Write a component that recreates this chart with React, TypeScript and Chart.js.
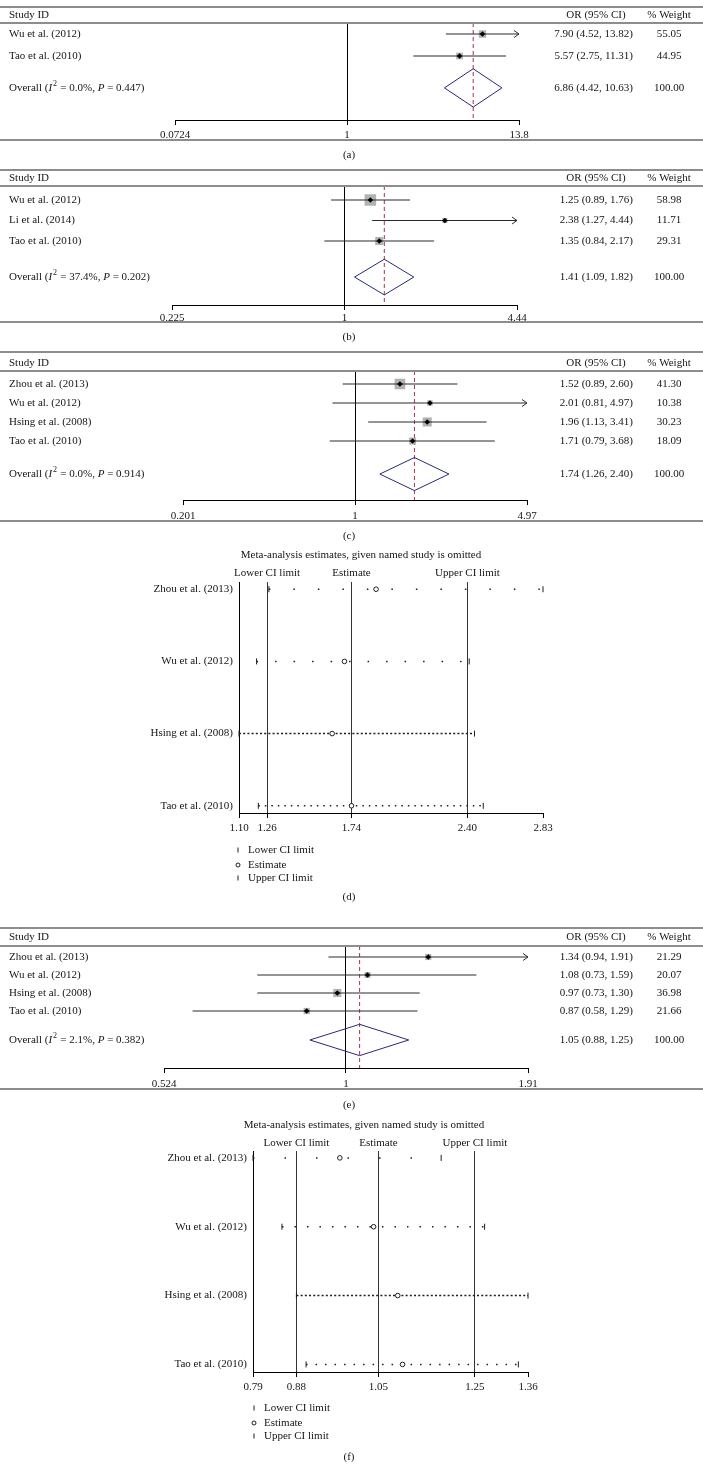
import React, { useEffect, useRef } from "react";
import { Chart, registerables } from "chart.js";

Chart.register(...registerables);

const PAGE_W = 703;
const PAGE_H = 1479;
const SERIF = '"Liberation Serif", "Times New Roman", Times, serif';

// ===== Panel (a) =====
const studiesA = ["Wu et al. (2012)", "Tao et al. (2010)"];
const orA = [7.9, 5.57];
const lowerA = [4.52, 2.75];
const upperA = [13.82, 11.31];
const weightsA = [55.05, 44.95];
const overallA = [6.86, 4.42, 10.63];
const hetA = ["0.0%", "0.447"];
const ticksA = [0.0724, 1, 13.8];
const tickLabelsA = ["0.0724", "1", "13.8"];

// ===== Panel (b) =====
const studiesB = ["Wu et al. (2012)", "Li et al. (2014)", "Tao et al. (2010)"];
const orB = [1.25, 2.38, 1.35];
const lowerB = [0.89, 1.27, 0.84];
const upperB = [1.76, 4.44, 2.17];
const weightsB = [58.98, 11.71, 29.31];
const overallB = [1.41, 1.09, 1.82];
const hetB = ["37.4%", "0.202"];
const ticksB = [0.225, 1, 4.44];
const tickLabelsB = ["0.225", "1", "4.44"];

// ===== Panel (c) =====
const studiesC = ["Zhou et al. (2013)", "Wu et al. (2012)", "Hsing et al. (2008)", "Tao et al. (2010)"];
const orC = [1.52, 2.01, 1.96, 1.71];
const lowerC = [0.89, 0.81, 1.13, 0.79];
const upperC = [2.6, 4.97, 3.41, 3.68];
const weightsC = [41.3, 10.38, 30.23, 18.09];
const overallC = [1.74, 1.26, 2.4];
const hetC = ["0.0%", "0.914"];
const ticksC = [0.201, 1, 4.97];
const tickLabelsC = ["0.201", "1", "4.97"];

// ===== Panel (e) =====
const studiesE = ["Zhou et al. (2013)", "Wu et al. (2012)", "Hsing et al. (2008)", "Tao et al. (2010)"];
const orE = [1.34, 1.08, 0.97, 0.87];
const lowerE = [0.94, 0.73, 0.73, 0.58];
const upperE = [1.91, 1.59, 1.3, 1.29];
const weightsE = [21.29, 20.07, 36.98, 21.66];
const overallE = [1.05, 0.88, 1.25];
const hetE = ["2.1%", "0.382"];
const ticksE = [0.524, 1, 1.91];
const tickLabelsE = ["0.524", "1", "1.91"];

// ===== Panel (d): influence analysis =====
const omittedStudies = ["Zhou et al. (2013)", "Wu et al. (2012)", "Hsing et al. (2008)", "Tao et al. (2010)"];
const estimateD = [1.88, 1.7, 1.63, 1.74];
const lowerD = [1.27, 1.2, 1.1, 1.21];
const upperD = [2.83, 2.41, 2.44, 2.49];
const overallD = [1.74, 1.26, 2.4];
const ticksD = [1.1, 1.26, 1.74, 2.4, 2.83];

// ===== Panel (f): influence analysis =====
const estimateF = [0.97, 1.04, 1.09, 1.1];
const lowerF = [0.79, 0.85, 0.88, 0.9];
const upperF = [1.18, 1.27, 1.36, 1.34];
const overallF = [1.05, 0.88, 1.25];
const ticksF = [0.79, 0.88, 1.05, 1.25, 1.36];

const legendLabels = ["Lower CI limit", "Estimate", "Upper CI limit"];
const sensTitle = "Meta-analysis estimates, given named study is omitted";

// ===== layout (page pixel positions) =====
const layoutA = { top: 0, height: 165, topRule: 7, header: 15, underline: 23, firstRow: 34, rowGap: 22, overallRow: 3.45, axis: 120, bottomRule: 140, caption: 155, xLeft: 175, xRight: 519, boxScale: 1.0, tickPad: 4 };
const layoutB = { top: 165, height: 180, topRule: 170, header: 178, underline: 186, firstRow: 200, rowGap: 20.5, overallRow: 4.76, axis: 305, bottomRule: 322, caption: 337, xLeft: 172, xRight: 517, boxScale: 1.5, tickPad: 1.5 };
const layoutC = { top: 345, height: 200, topRule: 352, header: 363, underline: 371, firstRow: 384, rowGap: 19, overallRow: 5.74, axis: 500, bottomRule: 521, caption: 536, xLeft: 183, xRight: 527, boxScale: 1.65, tickPad: 5 };
const layoutE = { top: 915, height: 197, topRule: 928, header: 937, underline: 946, firstRow: 957, rowGap: 18, overallRow: 5.61, axis: 1068, bottomRule: 1089, caption: 1105, xLeft: 164, xRight: 528, boxScale: 1.33, tickPad: 4.5 };

const layoutD = { top: 545, height: 370, title: 555, titleX: 361, header: 573, areaTop: 582, axis: 813, left: 239, right: 543, yMin: 0.9, yMax: 4.1, tickPad: 4, legendYs: [850, 865, 878], legendX: 238, caption: 897, dashes: [[1.5, 23], [1.5, 17], [2, 2.2], [1.5, 5]] };
const layoutF = { top: 1112, height: 367, title: 1125, titleX: 364, header: 1143, areaTop: 1151, axis: 1372, left: 253, right: 528, yMin: 0.9, yMax: 4.11, tickPad: 3.5, legendYs: [1408, 1423, 1436], legendX: 254, caption: 1457, dashes: [[1.5, 30], [1.5, 11], [2, 2.2], [1.5, 8]] };

const X_STUDY = 9;
const X_OR_HEAD = 596;
const X_OR_RIGHT = 633;
const X_WEIGHT = 669;
const X_CAPTION = 349;
const TEXT = "#151515";
const RULE = "#8d8d8d";
const NAVY = "#29287a";
const RED = "#a8324a";

function fmt(est: number, lo: number, hi: number) {
  return `${est.toFixed(2)} (${lo.toFixed(2)}, ${hi.toFixed(2)})`;
}

function drawOverall(ctx: CanvasRenderingContext2D, x: number, y: number, i2: string, p: string) {
  const parts = [
    { t: "Overall (", f: "n" },
    { t: "I", f: "i" },
    { t: "2", f: "s" },
    { t: " = " + i2 + ", ", f: "n" },
    { t: "P", f: "i" },
    { t: " = " + p + ")", f: "n" },
  ];
  let cx = x;
  ctx.textAlign = "left";
  for (const part of parts) {
    ctx.font = part.f === "i" ? `italic 11px ${SERIF}` : part.f === "s" ? `8px ${SERIF}` : `11px ${SERIF}`;
    ctx.fillText(part.t, cx + (part.f === "s" ? 1 : 0), part.f === "s" ? y - 4 : y);
    cx += ctx.measureText(part.t).width + (part.f === "s" ? 1.5 : 0);
  }
}

type ForestProps = {
  studies: string[]; or: number[]; lower: number[]; upper: number[]; weights: number[];
  overall: number[]; het: string[]; ticks: number[]; tickLabels: string[]; caption: string; L: any;
};

function ForestPanel(props: ForestProps) {
  const ref = useRef<HTMLCanvasElement>(null);
  useEffect(() => {
    const { studies, or, lower, upper, weights, overall, het, ticks, tickLabels, caption, L } = props;
    const xMin = ticks[0];
    const xMax = ticks[ticks.length - 1];
    const yMin = 1 - (L.firstRow - L.underline) / L.rowGap;
    const yMax = 1 + (L.axis - L.firstRow) / L.rowGap;
    const yo = L.overallRow;
    const dh = 0.87;

    const datasets: any[] = [];
    datasets.push({
      data: or.map((v, i) => ({ x: v, y: i + 1 })),
      pointStyle: "rectRot", pointRadius: 2.8, pointBackgroundColor: "#000", pointBorderColor: "#000", pointBorderWidth: 0,
      order: 0,
    });
    studies.forEach((_, i) => {
      datasets.push({
        data: [{ x: lower[i], y: i + 1 }, { x: Math.min(upper[i], xMax), y: i + 1 }],
        showLine: true, borderColor: "#2a2a2a", borderWidth: 1, pointRadius: 0, order: 1,
      });
    });
    datasets.push({
      data: or.map((v, i) => ({ x: v, y: i + 1 })),
      pointStyle: "rect", pointRadius: weights.map((w) => (L.boxScale * Math.sqrt(w)) / Math.SQRT2),
      pointBackgroundColor: "#b2b2b2", pointBorderWidth: 0, order: 2,
    });
    datasets.push({
      data: [
        { x: overall[1], y: yo }, { x: overall[0], y: yo - dh }, { x: overall[2], y: yo },
        { x: overall[0], y: yo + dh }, { x: overall[1], y: yo },
      ],
      showLine: true, borderColor: NAVY, borderWidth: 1, pointRadius: 0, order: 3,
    });
    datasets.push({
      data: [{ x: overall[0], y: yMin }, { x: overall[0], y: yMax }],
      showLine: true, borderColor: RED, borderWidth: 1, borderDash: [4, 3], pointRadius: 0, order: 4,
    });

    const decor = {
      id: "forestDecor",
      afterDatasetsDraw(chart: any) {
        const { ctx, scales } = chart;
        ctx.save();
        ctx.strokeStyle = "#2a2a2a";
        ctx.lineWidth = 1;
        upper.forEach((u, i) => {
          if (u >= xMax) {
            const px = scales.x.getPixelForValue(xMax);
            const py = scales.y.getPixelForValue(i + 1);
            ctx.beginPath();
            ctx.moveTo(px - 5, py - 3.5);
            ctx.lineTo(px, py);
            ctx.lineTo(px - 5, py + 3.5);
            ctx.stroke();
          }
        });
        ctx.restore();
      },
      afterDraw(chart: any) {
        const { ctx, scales } = chart;
        const T = L.top;
        ctx.save();
        ctx.strokeStyle = RULE;
        ctx.lineWidth = 2;
        [L.topRule, L.underline, L.bottomRule].forEach((yy: number) => {
          ctx.beginPath();
          ctx.moveTo(0, yy - T);
          ctx.lineTo(PAGE_W, yy - T);
          ctx.stroke();
        });
        ctx.fillStyle = TEXT;
        ctx.textBaseline = "middle";
        ctx.font = `11px ${SERIF}`;
        ctx.textAlign = "left";
        ctx.fillText("Study ID", X_STUDY, L.header - T);
        ctx.textAlign = "center";
        ctx.fillText("OR (95% CI)", X_OR_HEAD, L.header - T);
        ctx.fillText("% Weight", X_WEIGHT, L.header - T);
        studies.forEach((s, i) => {
          const y = scales.y.getPixelForValue(i + 1);
          ctx.textAlign = "left";
          ctx.fillText(s, X_STUDY, y);
          ctx.textAlign = "right";
          ctx.fillText(fmt(or[i], lower[i], upper[i]), X_OR_RIGHT, y);
          ctx.textAlign = "center";
          ctx.fillText(weights[i].toFixed(2), X_WEIGHT, y);
        });
        const yO = scales.y.getPixelForValue(yo);
        drawOverall(ctx, X_STUDY, yO, het[0], het[1]);
        ctx.font = `11px ${SERIF}`;
        ctx.textAlign = "right";
        ctx.fillText(fmt(overall[0], overall[1], overall[2]), X_OR_RIGHT, yO);
        ctx.textAlign = "center";
        ctx.fillText((100).toFixed(2), X_WEIGHT, yO);
        ctx.fillText(caption, X_CAPTION, L.caption - T);
        ctx.restore();
      },
    };

    const chart = new Chart(ref.current as HTMLCanvasElement, {
      type: "scatter",
      data: { datasets },
      options: {
        animation: false,
        responsive: false,
        maintainAspectRatio: false,
        devicePixelRatio: 1,
        events: [],
        layout: { padding: { left: L.xLeft, right: PAGE_W - L.xRight, top: L.underline - L.top, bottom: L.top + L.height - L.axis - 20 } },
        plugins: { legend: { display: false }, tooltip: { enabled: false } },
        scales: {
          x: {
            type: "logarithmic", min: xMin, max: xMax, bounds: "data",
            afterBuildTicks: (s: any) => { s.ticks = ticks.map((v) => ({ value: v })); },
            afterFit: (s: any) => { s.height = 20; },
            ticks: {
              callback: (_v: any, i: number) => tickLabels[i],
              color: TEXT, font: { family: SERIF, size: 11 }, padding: L.tickPad, maxRotation: 0, autoSkip: false,
            },
            grid: {
              color: (c: any) => (c.tick && c.tick.value === 1 ? "#000" : "rgba(0,0,0,0)"),
              tickColor: "#000", tickLength: 5, lineWidth: 1,
            },
            border: { display: true, color: "#000", width: 1 },
          },
          y: { type: "linear", reverse: true, min: yMin, max: yMax, display: false },
        },
      } as any,
      plugins: [decor],
    });
    return () => chart.destroy();
  }, []);
  const L = props.L;
  return (
    <canvas ref={ref} width={PAGE_W} height={L.height}
      style={{ position: "absolute", left: 0, top: L.top, width: PAGE_W, height: L.height, display: "block" }} />
  );
}

type SensProps = { studies: string[]; est: number[]; lower: number[]; upper: number[]; overall: number[]; ticks: number[]; caption: string; L: any };

function SensPanel(props: SensProps) {
  const ref = useRef<HTMLCanvasElement>(null);
  useEffect(() => {
    const { studies, est, lower, upper, overall, ticks, caption, L } = props;
    const dark = "#1e1e1e";
    const datasets: any[] = [];
    datasets.push({
      label: legendLabels[1],
      data: est.map((v, i) => ({ x: v, y: i + 1 })),
      pointStyle: "circle", pointRadius: 2.3, pointBackgroundColor: "#fff", pointBorderColor: dark, pointBorderWidth: 1,
      order: 0, clip: false,
    });
    datasets.push({
      label: legendLabels[0],
      data: lower.map((v, i) => ({ x: v, y: i + 1 })),
      pointStyle: "line", pointRotation: 90, pointRadius: 3, pointBorderColor: dark, pointBorderWidth: 1,
      order: 1, clip: false,
    });
    datasets.push({
      label: legendLabels[2],
      data: upper.map((v, i) => ({ x: v, y: i + 1 })),
      pointStyle: "line", pointRotation: 90, pointRadius: 3, pointBorderColor: dark, pointBorderWidth: 1,
      order: 1, clip: false,
    });
    studies.forEach((_, i) => {
      datasets.push({
        data: [{ x: lower[i], y: i + 1 }, { x: upper[i], y: i + 1 }],
        showLine: true, borderColor: dark, borderWidth: 1.5, borderDash: L.dashes[i], pointRadius: 0, order: 2, clip: false,
      });
    });

    const decor = {
      id: "sensDecor",
      afterDraw(chart: any) {
        const { ctx, scales } = chart;
        const T = L.top;
        ctx.save();
        ctx.fillStyle = TEXT;
        ctx.strokeStyle = dark;
        ctx.textBaseline = "middle";
        ctx.font = `11px ${SERIF}`;
        ctx.textAlign = "center";
        ctx.fillText(sensTitle, L.titleX, L.title - T);
        const heads = [
          { t: legendLabels[0], v: overall[1] },
          { t: legendLabels[1], v: overall[0] },
          { t: legendLabels[2], v: overall[2] },
        ];
        heads.forEach((h) => ctx.fillText(h.t, scales.x.getPixelForValue(h.v), L.header - T));
        legendLabels.forEach((t, k) => {
          const y = L.legendYs[k] - T;
          ctx.lineWidth = 1;
          ctx.beginPath();
          if (k === 1) {
            ctx.arc(L.legendX, y, 2, 0, Math.PI * 2);
          } else {
            ctx.moveTo(L.legendX, y - 2.5);
            ctx.lineTo(L.legendX, y + 2.5);
          }
          ctx.stroke();
          ctx.textAlign = "left";
          ctx.fillText(t, L.legendX + 10, y);
        });
        ctx.textAlign = "center";
        ctx.fillText(caption, X_CAPTION, L.caption - T);
        ctx.restore();
      },
    };

    const chart = new Chart(ref.current as HTMLCanvasElement, {
      type: "scatter",
      data: { datasets },
      options: {
        animation: false,
        responsive: false,
        maintainAspectRatio: false,
        devicePixelRatio: 1,
        events: [],
        layout: { padding: { left: 0, right: PAGE_W - L.right, top: L.areaTop - L.top, bottom: L.top + L.height - L.axis - 20 } },
        plugins: { legend: { display: false }, tooltip: { enabled: false } },
        scales: {
          x: {
            type: "linear", min: ticks[0], max: ticks[ticks.length - 1], bounds: "data",
            afterBuildTicks: (s: any) => { s.ticks = ticks.map((v) => ({ value: v })); },
            afterFit: (s: any) => { s.height = 20; },
            ticks: {
              callback: (_v: any, i: number) => ticks[i].toFixed(2),
              color: TEXT, font: { family: SERIF, size: 11 }, padding: L.tickPad, maxRotation: 0, autoSkip: false,
            },
            grid: {
              color: (c: any) => (c.tick && overall.includes(c.tick.value) ? "#333" : "rgba(0,0,0,0)"),
              tickColor: "#000", tickLength: 5, lineWidth: 1,
            },
            border: { display: true, color: "#000", width: 1 },
          },
          y: {
            type: "linear", reverse: true, min: L.yMin, max: L.yMax, bounds: "data",
            afterBuildTicks: (s: any) => { s.ticks = studies.map((_, i) => ({ value: i + 1 })); },
            afterFit: (s: any) => { s.width = L.left; },
            ticks: {
              callback: (_v: any, i: number) => studies[i],
              color: TEXT, font: { family: SERIF, size: 11 }, padding: 6, autoSkip: false,
            },
            grid: { display: false, drawTicks: false },
            border: { display: true, color: "#000", width: 1 },
          },
        },
      } as any,
      plugins: [decor],
    });
    return () => chart.destroy();
  }, []);
  const L = props.L;
  return (
    <canvas ref={ref} width={PAGE_W} height={L.height}
      style={{ position: "absolute", left: 0, top: L.top, width: PAGE_W, height: L.height, display: "block" }} />
  );
}

export default function App() {
  return (
    <div style={{ position: "absolute", left: 0, top: 0, width: PAGE_W, height: PAGE_H, background: "#fff" }}>
      <ForestPanel studies={studiesA} or={orA} lower={lowerA} upper={upperA} weights={weightsA}
        overall={overallA} het={hetA} ticks={ticksA} tickLabels={tickLabelsA} caption="(a)" L={layoutA} />
      <ForestPanel studies={studiesB} or={orB} lower={lowerB} upper={upperB} weights={weightsB}
        overall={overallB} het={hetB} ticks={ticksB} tickLabels={tickLabelsB} caption="(b)" L={layoutB} />
      <ForestPanel studies={studiesC} or={orC} lower={lowerC} upper={upperC} weights={weightsC}
        overall={overallC} het={hetC} ticks={ticksC} tickLabels={tickLabelsC} caption="(c)" L={layoutC} />
      <SensPanel studies={omittedStudies} est={estimateD} lower={lowerD} upper={upperD}
        overall={overallD} ticks={ticksD} caption="(d)" L={layoutD} />
      <ForestPanel studies={studiesE} or={orE} lower={lowerE} upper={upperE} weights={weightsE}
        overall={overallE} het={hetE} ticks={ticksE} tickLabels={tickLabelsE} caption="(e)" L={layoutE} />
      <SensPanel studies={omittedStudies} est={estimateF} lower={lowerF} upper={upperF}
        overall={overallF} ticks={ticksF} caption="(f)" L={layoutF} />
    </div>
  );
}
